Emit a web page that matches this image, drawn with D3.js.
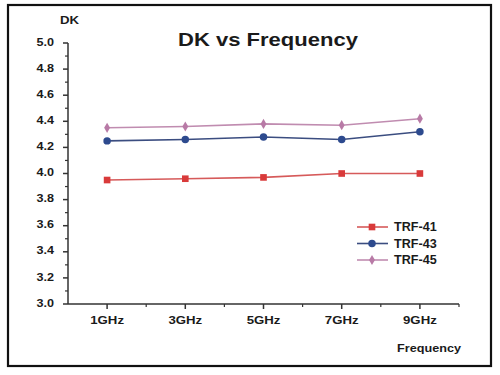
<!DOCTYPE html>
<html><head><meta charset="utf-8">
<script src="https://cdn.jsdelivr.net/npm/d3@7/dist/d3.min.js"></script>
<style>
html,body{margin:0;padding:0;background:#fff;}
svg{display:block;font-family:"Liberation Sans",Arial,sans-serif;}
</style></head>
<body>
<svg id="c" width="500" height="375"></svg>
<script>
const categories = ["1GHz","3GHz","5GHz","7GHz","9GHz"];
const trf41 = [3.95,3.96,3.97,4.00,4.00];
const trf43 = [4.25,4.26,4.28,4.26,4.32];
const trf45 = [4.35,4.36,4.38,4.37,4.42];
const yTicks = [3.0,3.2,3.4,3.6,3.8,4.0,4.2,4.4,4.6,4.8,5.0];
const seriesNames = ["TRF-41","TRF-43","TRF-45"];

const series = [
  {name: seriesNames[0], values: trf41, line:"#d65a5a", fill:"#d93a3a", shape:d3.symbolSquare, size:44},
  {name: seriesNames[1], values: trf43, line:"#3b4d80", fill:"#2d4a8e", shape:d3.symbolCircle, size:44},
  {name: seriesNames[2], values: trf45, line:"#c08cb0", fill:"#b87aa6", shape:d3.symbolDiamond, size:30}
];

const svg = d3.select("#c");
function txt(parent, x, y, s, size, sx, anchor, dy){
  return parent.append("text")
    .attr("transform",`translate(${x},${y}) scale(${sx},1)`)
    .attr("text-anchor",anchor||"start").attr("dy",dy||0)
    .attr("font-size",size).attr("font-weight","bold").attr("fill","#1a1a1a").text(s);
}
// frame
svg.append("rect").attr("x",8).attr("y",5).attr("width",483).attr("height",361)
  .attr("fill","#fff").attr("stroke","#111").attr("stroke-width",2.2);

const x0 = 68, x1 = 459, yTop = 43, yBot = 304;
const x = d3.scaleBand().domain(categories).range([x0,x1]);
const y = d3.scaleLinear().domain([3,5]).range([yBot,yTop]);

// y axis
const gy = svg.append("g").attr("transform",`translate(${x0},0)`);
gy.append("line").attr("y1",y(3)).attr("y2",y(5)).attr("stroke","#333").attr("stroke-width",1.5);
const minorY = d3.range(3.1,5.0,0.2);
gy.selectAll(".mj").data(yTicks).join("line")
  .attr("x1",-5).attr("x2",0).attr("y1",d=>y(d)).attr("y2",d=>y(d))
  .attr("stroke","#333").attr("stroke-width",1.5);
gy.selectAll(".mn").data(minorY).join("line")
  .attr("x1",-3).attr("x2",0).attr("y1",d=>y(d)).attr("y2",d=>y(d))
  .attr("stroke","#333").attr("stroke-width",1.2);
yTicks.forEach(d=>txt(gy,-14,y(d)-1,d.toFixed(1),10.5,1.2,"end","0.35em"));

// x axis
const gx = svg.append("g").attr("transform",`translate(0,${yBot})`);
gx.append("line").attr("x1",x0).attr("x2",x1).attr("stroke","#333").attr("stroke-width",1.5);
gx.selectAll(".mj").data(categories).join("line")
  .attr("x1",d=>x(d)+x.bandwidth()/2).attr("x2",d=>x(d)+x.bandwidth()/2)
  .attr("y1",0).attr("y2",5).attr("stroke","#333").attr("stroke-width",1.5);
gx.selectAll(".mn").data(categories).join("line")
  .attr("x1",d=>x(d)+x.bandwidth()).attr("x2",d=>x(d)+x.bandwidth())
  .attr("y1",0).attr("y2",3).attr("stroke","#333").attr("stroke-width",1.2);
categories.forEach(d=>txt(gx,x(d)+x.bandwidth()/2,20,d,11.5,1.15,"middle"));

// lines & markers
const line = d3.line().x((d,i)=>x(categories[i])+x.bandwidth()/2).y(d=>y(d));
series.forEach(s=>{
  svg.append("path").attr("d",line(s.values)).attr("fill","none")
    .attr("stroke",s.line).attr("stroke-width",1.6);
  svg.selectAll(null).data(s.values).join("path")
    .attr("transform",(d,i)=>`translate(${x(categories[i])+x.bandwidth()/2},${y(d)})`)
    .attr("d",d3.symbol().type(s.shape).size(s.size)).attr("fill",s.fill);
});

// title and labels
txt(svg,268,46,"DK vs Frequency",18.5,1.19,"middle");
txt(svg,60,24,"DK",11.5,1.15,"start");
txt(svg,461,352,"Frequency",11.5,1.1,"end");

// legend
const lg = svg.append("g");
series.forEach((s,i)=>{
  const yy = 227 + i*16.5;
  lg.append("line").attr("x1",357).attr("x2",388).attr("y1",yy).attr("y2",yy)
    .attr("stroke",s.line).attr("stroke-width",1.6);
  lg.append("path").attr("transform",`translate(372,${yy})`)
    .attr("d",d3.symbol().type(s.shape).size(s.size)).attr("fill",s.fill);
  txt(lg,394,yy,s.name,12,1.05,"start","0.36em");
});
</script>
</body></html>
